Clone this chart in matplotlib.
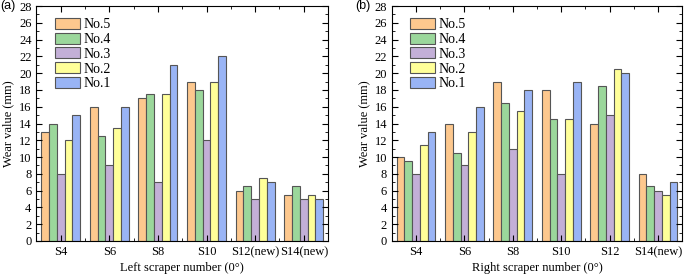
import numpy as np
import matplotlib.pyplot as plt
from matplotlib.ticker import MultipleLocator, FixedLocator

series = ['No.5', 'No.4', 'No.3', 'No.2', 'No.1']
colors = ['#FDC88E', '#9BD79B', '#C3AFD7', '#FFFF99', '#99B4F5']

left_groups = ['S4', 'S6', 'S8', 'S10', 'S12(new)', 'S14(new)']
left_no5 = [13, 16, 17, 19, 6, 5.5]
left_no4 = [14, 12.5, 17.5, 18, 6.5, 6.5]
left_no3 = [8, 9, 7, 12, 5, 5]
left_no2 = [12, 13.5, 17.5, 19, 7.5, 5.5]
left_no1 = [15, 16, 21, 22, 7, 5]

right_groups = ['S4', 'S6', 'S8', 'S10', 'S12', 'S14(new)']
right_no5 = [10, 14, 19, 18, 14, 8]
right_no4 = [9.5, 10.5, 16.5, 14.5, 18.5, 6.5]
right_no3 = [8, 9, 11, 8, 15, 6]
right_no2 = [11.5, 13, 15.5, 14.5, 20.5, 5.5]
right_no1 = [13, 16, 18, 19, 20, 7]

plt.rcParams['font.family'] = 'Liberation Serif'
plt.rcParams['font.size'] = 9

fig = plt.figure(figsize=(6.85, 2.77), dpi=100)
ax1 = fig.add_axes([0.053, 0.130, 0.426, 0.848])
ax2 = fig.add_axes([0.572, 0.130, 0.424, 0.848])


def draw(ax, groups, data, xlabel, tag):
    x = np.arange(len(groups))
    w = 0.16
    for i, (vals, lab, c) in enumerate(zip(data, series, colors)):
        ax.bar(x + (i - 2) * w, vals, w, color=c, edgecolor='#555555',
               linewidth=0.8, label=lab)
    ax.set_xlim(-0.5, len(groups) - 0.5)
    ax.set_ylim(0, 28)
    ax.yaxis.set_major_locator(MultipleLocator(2))
    ax.yaxis.set_minor_locator(MultipleLocator(1))
    ax.set_xticks(x)
    ax.set_xticklabels(groups)
    ax.xaxis.set_minor_locator(FixedLocator(x[:-1] + 0.5))
    ax.tick_params(which='both', direction='in', top=True, right=True)
    ax.tick_params(which='major', length=4)
    ax.tick_params(which='minor', length=2)
    ax.set_xlabel(xlabel, labelpad=3)
    ax.set_ylabel('Wear value (mm)', labelpad=3)
    ax.legend(loc='upper left', bbox_to_anchor=(0.035, 0.985), frameon=False,
              fontsize=10, handlelength=1.8, handleheight=0.85,
              labelspacing=0.1, handletextpad=0.25, borderaxespad=0.2)
    ax.text(-0.125, 1.0, tag, transform=ax.transAxes, family='Liberation Sans',
            fontsize=9, va='center', ha='left')


draw(ax1, left_groups, [left_no5, left_no4, left_no3, left_no2, left_no1],
     'Left scraper number (0°)', '(a)')
draw(ax2, right_groups, [right_no5, right_no4, right_no3, right_no2, right_no1],
     'Right scraper number (0°)', '(b)')

fig.savefig('out.png', dpi=100)
